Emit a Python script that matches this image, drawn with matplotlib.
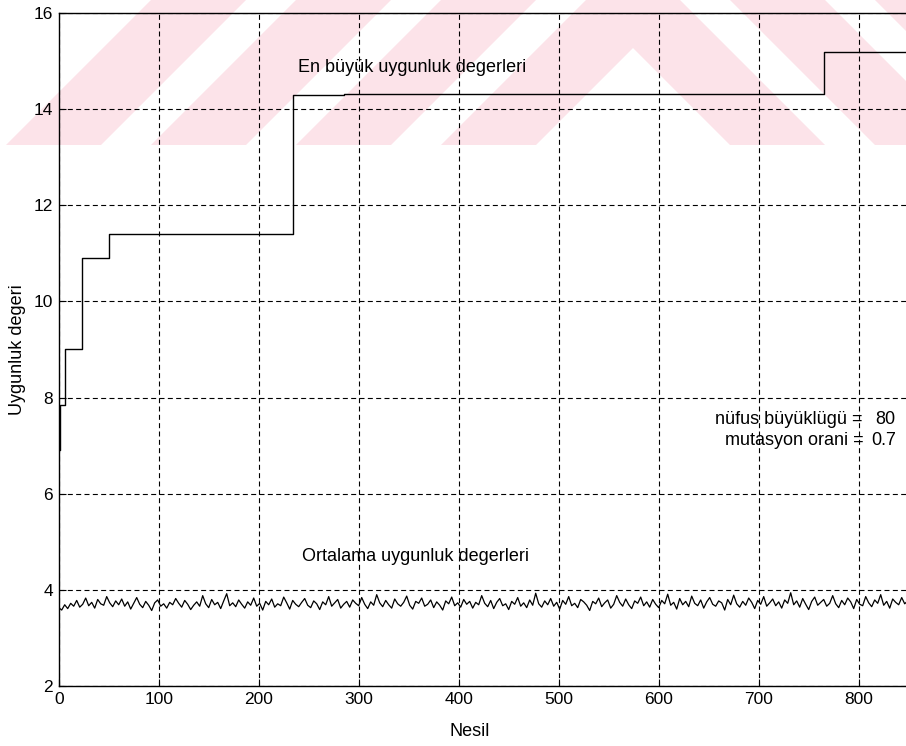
import numpy as np
import matplotlib
matplotlib.use("Agg")
import matplotlib.pyplot as plt
from matplotlib.patches import Polygon

plt.rcParams['font.family'] = ['Liberation Sans', 'DejaVu Sans']

# best fitness per generation (value holds until the next change)
best_gen = [0, 1, 6, 23, 50, 234, 285, 765, 850]
best_fit = [6.9, 7.85, 9.0, 10.9, 11.4, 14.3, 14.32, 15.19, 15.19]

# mean fitness, sampled every 3 generations
mean_step = 3
mean_fit = [
    3.63, 3.58, 3.69, 3.61, 3.72, 3.66, 3.78, 3.64, 3.70, 3.83, 3.67, 3.74, 3.62, 3.80, 3.71, 3.68, 3.86, 3.73, 3.65, 3.77,
    3.69, 3.81, 3.66, 3.75, 3.60, 3.72, 3.84, 3.70, 3.63, 3.76, 3.68, 3.57, 3.73, 3.79, 3.66, 3.71, 3.62, 3.74, 3.69, 3.82,
    3.72, 3.64, 3.78, 3.70, 3.59, 3.68, 3.75, 3.66, 3.88, 3.71, 3.63, 3.80, 3.69, 3.74, 3.61, 3.77, 3.92, 3.67, 3.73, 3.65,
    3.79, 3.70, 3.62, 3.75, 3.68, 3.83, 3.66, 3.72, 3.58, 3.76, 3.69, 3.81, 3.64, 3.71, 3.67, 3.85, 3.73, 3.60, 3.78, 3.70,
    3.65, 3.74, 3.82, 3.68, 3.63, 3.77, 3.71, 3.59, 3.75, 3.69, 3.86, 3.66, 3.73, 3.80, 3.62, 3.70, 3.76, 3.64, 3.79, 3.72,
    3.67, 3.84, 3.70, 3.61, 3.75, 3.68, 3.90, 3.73, 3.65, 3.78, 3.69, 3.62, 3.81, 3.71, 3.66, 3.74, 3.87, 3.68, 3.60, 3.76,
    3.72, 3.83, 3.66, 3.70, 3.79, 3.63, 3.75, 3.68, 3.58, 3.77, 3.71, 3.85, 3.67, 3.73, 3.64, 3.80, 3.70, 3.76, 3.62, 3.74,
    3.69, 3.88, 3.72, 3.65, 3.78, 3.61, 3.74, 3.82, 3.67, 3.71, 3.59, 3.76, 3.70, 3.84, 3.66, 3.73, 3.63, 3.79, 3.68, 3.93,
    3.71, 3.64, 3.77, 3.69, 3.82, 3.66, 3.74, 3.60, 3.78, 3.70, 3.86, 3.67, 3.72, 3.63, 3.80, 3.75, 3.68, 3.57, 3.76, 3.71,
    3.83, 3.65, 3.73, 3.79, 3.62, 3.70, 3.88, 3.74, 3.66, 3.81, 3.69, 3.61, 3.77, 3.72, 3.85, 3.67, 3.75, 3.64, 3.80, 3.70,
    3.63, 3.78, 3.71, 3.91, 3.68, 3.74, 3.60, 3.82, 3.69, 3.76, 3.65, 3.87, 3.72, 3.67, 3.79, 3.62, 3.75, 3.84, 3.70, 3.66,
    3.77, 3.73, 3.58, 3.80, 3.69, 3.89, 3.71, 3.64, 3.76, 3.68, 3.83, 3.74, 3.61, 3.78, 3.70, 3.86, 3.66, 3.73, 3.81, 3.67,
    3.75, 3.62, 3.79, 3.72, 3.94, 3.69, 3.77, 3.64, 3.82, 3.70, 3.59, 3.76, 3.85, 3.68, 3.74, 3.80, 3.66, 3.72, 3.88, 3.71,
    3.63, 3.78, 3.69, 3.83, 3.75, 3.61, 3.80, 3.70, 3.67, 3.86, 3.73, 3.65, 3.79, 3.72, 3.90, 3.68, 3.76, 3.62, 3.81, 3.74,
    3.69, 3.84, 3.71, 3.77,
]
mean_gen = np.arange(len(mean_fit)) * mean_step

pop_size = 80
mut_rate = 0.7

W, H = 906, 746
fig = plt.figure(figsize=(W / 100, H / 100), dpi=100, facecolor='white')

# pale striped emblem in the page background
bg = fig.add_axes([0, 0, 1, 1], zorder=0)
bg.set_xlim(0, W)
bg.set_ylim(H, 0)
bg.axis('off')
cx, base, band, gap = 633, 145, 95, 50
for k in range(4):
    yi = 48 - k * (band + gap)
    yo = yi - band
    pts = [(cx - (base - yo), base), (cx, yo), (cx + (base - yo), base),
           (cx + (base - yi), base), (cx, yi), (cx - (base - yi), base)]
    bg.add_patch(Polygon(pts, closed=True, facecolor='#fce3e9', edgecolor='none'))

ax = fig.add_axes([58.7 / W, 60 / H, 900 / W, 673 / H], zorder=1)
ax.set_facecolor('none')

ax.plot(best_gen, best_fit, color='black', lw=1.0, drawstyle='steps-post')
ax.plot(mean_gen, mean_fit, color='black', lw=0.9)

ax.set_xlim(0, 900)
ax.set_ylim(2, 16)
ax.set_xticks(range(0, 801, 100))
ax.set_yticks(range(2, 17, 2))
ax.tick_params(direction='in', length=5, labelsize=12.5, pad=4)
ax.grid(True, color='black', linestyle=(0, (4.5, 3)), linewidth=0.8)
for s in ax.spines.values():
    s.set_linewidth(1.0)

ax.text(239, 14.86, 'En büyük uygunluk degerleri', fontsize=13, ha='left', va='center')
ax.text(243, 4.69, 'Ortalama uygunluk degerleri', fontsize=13, ha='left', va='center')
ax.text(804, 7.54, 'nüfus büyüklügü =', fontsize=13, ha='right', va='center')
ax.text(817, 7.54, f'{pop_size}', fontsize=13, ha='left', va='center')
ax.text(805, 7.10, 'mutasyon orani =', fontsize=13, ha='right', va='center')
ax.text(813, 7.10, f'{mut_rate}', fontsize=13, ha='left', va='center')

ax.set_xlabel('Nesil', fontsize=13)
ax.set_ylabel('Uygunluk degeri', fontsize=13)
ax.xaxis.set_label_coords((470 - 58.7) / 900, -0.055)
ax.yaxis.set_label_coords(-0.036, 0.5)

fig.savefig('out.png', dpi=100)
